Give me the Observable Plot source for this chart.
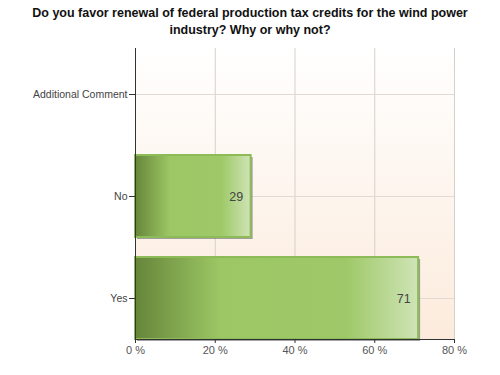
<!DOCTYPE html>
<html><head><meta charset="utf-8">
<script src="https://cdn.jsdelivr.net/npm/d3@7"></script>
<script src="https://cdn.jsdelivr.net/npm/@observablehq/plot@0.6"></script>
<style>
body{margin:0;background:#fff;font-family:"Liberation Sans",Arial,sans-serif}
#title{width:500px;height:40px;text-align:center;font-weight:bold;font-size:12.5px;line-height:17px;padding-top:5px;box-sizing:border-box;color:#111}
</style></head>
<body>
<div id="title">Do you favor renewal of federal production tax credits for the wind power<br>industry? Why or why not?</div>
<div id="chart"></div>
<script>
const categories = ["Additional Comment", "No", "Yes"];
const values = [0, 29, 71];
const xTicks = [0, 20, 40, 60, 80];

const data = categories.map((c, i) => ({category: c, value: values[i]}));
const nonZero = data.filter(d => d.value > 0);

const chart = Plot.plot({
  width: 500, height: 335,
  marginLeft: 135, marginRight: 46, marginTop: 8, marginBottom: 36,
  style: {fontFamily: "Liberation Sans, Arial, sans-serif", fontSize: "11px", color: "#555", background: "transparent"},
  x: {domain: [0, 80], label: null},
  y: {domain: categories, range: [3, 309], paddingInner: 0.2, paddingOuter: 0.1, label: null},
  marks: [
    Plot.frame({fill: "url(#bgGrad)", stroke: null}),
    Plot.gridX(xTicks, {stroke: "#d6d0ca", strokeOpacity: 1}),
    Plot.gridY(categories, {stroke: "#e2dad2", strokeOpacity: 1}),
    Plot.barX(nonZero, {x: "value", y: "category", fill: "#666", fillOpacity: 0.6, dx: 2, dy: 2}),
    Plot.barX(nonZero, {x: "value", y: "category", fill: "url(#barGrad)", stroke: "#8dbb58", strokeWidth: 2}),
    Plot.text(nonZero, {x: "value", y: "category", text: d => String(d.value), textAnchor: "end", dx: -8, fill: "#444", fontSize: 12.5}),
    Plot.frame({anchor: "bottom", stroke: "#333"}),
    Plot.frame({anchor: "left", stroke: "#333"}),
    Plot.axisX({ticks: xTicks, tickFormat: d => d + " %", tickSize: 4, tickPadding: 3, stroke: "#333", fill: "#555", fontSize: 11}),
    Plot.axisY({tickSize: 6, tickPadding: 2, stroke: "#333", fill: "#444", fontSize: 10.5})
  ]
});

const svg = d3.select(chart);
const defs = svg.insert("defs", ":first-child");
const bg = defs.append("linearGradient").attr("id", "bgGrad").attr("x1", 0).attr("y1", 0).attr("x2", 0).attr("y2", 1);
bg.append("stop").attr("offset", "0%").attr("stop-color", "#ffffff");
bg.append("stop").attr("offset", "100%").attr("stop-color", "#fcebdc");
const bar = defs.append("linearGradient").attr("id", "barGrad").attr("x1", 0).attr("y1", 0).attr("x2", 1).attr("y2", 0);
bar.append("stop").attr("offset", "0%").attr("stop-color", "#66853a");
bar.append("stop").attr("offset", "30%").attr("stop-color", "#9cc764");
bar.append("stop").attr("offset", "75%").attr("stop-color", "#9fc969");
bar.append("stop").attr("offset", "100%").attr("stop-color", "#cfe4b6");

document.getElementById("chart").appendChild(chart);
</script>
</body></html>
